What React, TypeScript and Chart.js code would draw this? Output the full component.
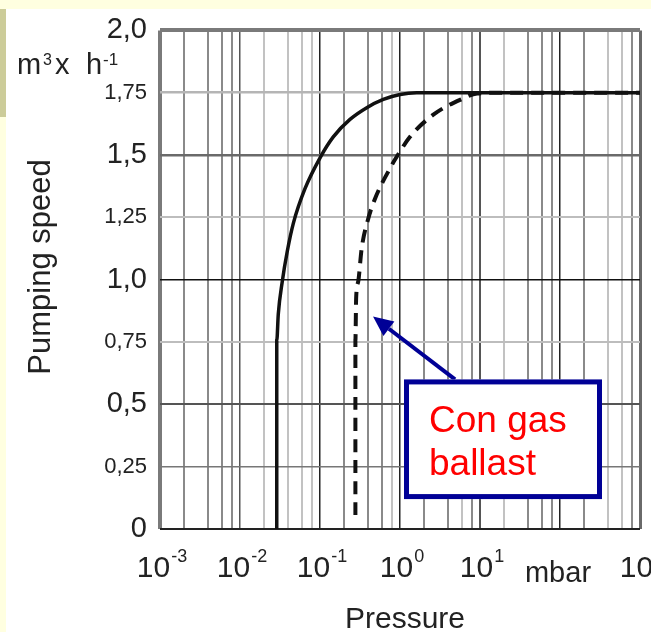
import { useEffect, useRef } from 'react';
import { Chart, registerables } from 'chart.js';

Chart.register(...registerables);

// ---- data ----
const solidPressure = [0.0288, 0.0288, 0.0301, 0.0338, 0.039, 0.0464, 0.0649, 0.1017, 0.1466, 0.237, 0.384, 0.618, 1.0, 1.62, 4.0, 1000];
const solidSpeed = [0, 0.754, 0.862, 0.994, 1.114, 1.226, 1.365, 1.493, 1.573, 1.643, 1.69, 1.723, 1.743, 1.75, 1.75, 1.75];

const ballastPressure = [0.277, 0.277, 0.283, 0.301, 0.332, 0.402, 0.487, 0.794, 0.91, 1.334, 2.585, 5.96, 9.2, 17.8, 1000];
const ballastSpeed = [0.056, 0.754, 0.926, 0.994, 1.126, 1.246, 1.325, 1.461, 1.493, 1.573, 1.661, 1.725, 1.747, 1.75, 1.75];

const yTickValues = [0, 0.25, 0.5, 0.75, 1.0, 1.25, 1.5, 1.75, 2.0];
const yTickLabels = ['0', '0,25', '0,5', '0,75', '1,0', '1,25', '1,5', '1,75', '2,0'];

const xDecadeExponents = [-3, -2, -1, 0, 1, 2, 3];
const xDecadeBase = ['10', '10', '10', '10', '10', 'mbar', '10'];
const xDecadeSup = ['-3', '-2', '-1', '0', '1', '', '3'];
const xMinorFactors = [2, 4, 6, 8];

const xTitle = 'Pressure';
const yTitle = 'Pumping speed';
const yUnitParts = ['m', '3', 'x', 'h', '-1'];
const noteLines = ['Con gas', 'ballast'];

// annotation anchors in data space
const arrowFrom = { p: 4.87, s: 0.6 };
const arrowTo = { p: 0.46, s: 0.852 };
const noteBox = { pLeft: 1.122, pRight: 335, sTop: 0.6, sBottom: 0.12 };

const FONT = '"Liberation Sans", Arial, Helvetica, sans-serif';

const xGridValues: number[] = [];
xDecadeExponents.forEach((e) => {
  xGridValues.push(Math.pow(10, e));
  if (e < 3) xMinorFactors.forEach((f) => xGridValues.push(f * Math.pow(10, e)));
});

const lightMinor = new Set(['-2:2', '-2:4', '-2:6', '-2:8', '-1:8', '0:6', '1:2', '2:4', '2:6']);

function xLine(v: number): { c: string; w: number } {
  const lg = Math.log10(v);
  const e = Math.floor(lg + 1e-9);
  const f = Math.round(v / Math.pow(10, e));
  if (Math.abs(lg + 3) < 1e-6) return { c: '#7a7a7a', w: 4 };
  if (Math.abs(lg - 3) < 1e-6) return { c: '#6a6a6a', w: 3 };
  if (f === 1) return { c: e === 1 || e === -2 ? '#555555' : '#222222', w: e === 1 ? 2 : 1.5 };
  return lightMinor.has(e + ':' + f) ? { c: '#c2c2c2', w: 2 } : { c: '#8a8a8a', w: 2 };
}

function yLine(v: number): { c: string; w: number } {
  const k = Math.round(v * 4);
  switch (k) {
    case 8: return { c: '#7a7a7a', w: 4 };
    case 7: return { c: '#b5b5b5', w: 2.5 };
    case 6: return { c: '#6a6a6a', w: 2.5 };
    case 5: return { c: '#bdbdbd', w: 2 };
    case 4: return { c: '#111111', w: 1.5 };
    case 3: return { c: '#bdbdbd', w: 2 };
    case 2: return { c: '#555555', w: 2 };
    case 1: return { c: '#777777', w: 1.5 };
    default: return { c: '#222222', w: 2 };
  }
}

const textPlugin = {
  id: 'textPlugin',
  afterDraw(chart: any) {
    const ctx: CanvasRenderingContext2D = chart.ctx;
    const xs = chart.scales.x;
    const ys = chart.scales.y;
    ctx.save();
    ctx.fillStyle = '#222';
    ctx.textBaseline = 'alphabetic';

    // x tick labels
    xDecadeExponents.forEach((e, i) => {
      const px = xs.getPixelForValue(Math.pow(10, e));
      const base = xDecadeBase[i];
      const sup = xDecadeSup[i];
      if (!sup) {
        ctx.font = `29px ${FONT}`;
        ctx.textAlign = 'center';
        ctx.fillText(base, px - 2, 582);
        return;
      }
      ctx.font = `30px ${FONT}`;
      const wb = ctx.measureText(base).width;
      ctx.font = `18px ${FONT}`;
      const ws = ctx.measureText(sup).width;
      const total = wb + 1 + ws;
      const x0 = px - total / 2 + 2;
      ctx.textAlign = 'left';
      ctx.font = `30px ${FONT}`;
      ctx.fillText(base, x0, 577);
      ctx.font = `18px ${FONT}`;
      ctx.fillText(sup, x0 + wb + 1, 562);
    });

    // x title
    ctx.font = `30px ${FONT}`;
    ctx.textAlign = 'center';
    ctx.fillText(xTitle, 405, 628);

    // y title
    ctx.save();
    ctx.translate(50, 267);
    ctx.rotate(-Math.PI / 2);
    ctx.font = `31px ${FONT}`;
    ctx.textAlign = 'center';
    ctx.fillText(yTitle, 0, 0);
    ctx.restore();

    // unit label m3 x h-1
    ctx.textAlign = 'left';
    const unitPos = [[17, 74, 29], [43, 65, 16], [55, 74, 29], [86, 74, 29], [103, 65, 17]];
    yUnitParts.forEach((t, i) => {
      const [x, y, s] = unitPos[i];
      ctx.font = `${s}px ${FONT}`;
      ctx.fillText(t, x, y);
    });

    // arrow
    const ax0 = xs.getPixelForValue(arrowFrom.p);
    const ay0 = ys.getPixelForValue(arrowFrom.s);
    const ax1 = xs.getPixelForValue(arrowTo.p);
    const ay1 = ys.getPixelForValue(arrowTo.s);
    const ang = Math.atan2(ay1 - ay0, ax1 - ax0);
    const hl = 20;
    const hw = 9;
    const bx = ax1 - hl * Math.cos(ang);
    const by = ay1 - hl * Math.sin(ang);
    ctx.strokeStyle = '#000096';
    ctx.fillStyle = '#000096';
    ctx.lineWidth = 4;
    ctx.beginPath();
    ctx.moveTo(ax0, ay0);
    ctx.lineTo(bx, by);
    ctx.stroke();
    ctx.beginPath();
    ctx.moveTo(ax1, ay1);
    ctx.lineTo(bx + hw * Math.sin(ang), by - hw * Math.cos(ang));
    ctx.lineTo(bx - hw * Math.sin(ang), by + hw * Math.cos(ang));
    ctx.closePath();
    ctx.fill();

    // note box
    const l = xs.getPixelForValue(noteBox.pLeft);
    const r = xs.getPixelForValue(noteBox.pRight);
    const t = ys.getPixelForValue(noteBox.sTop);
    const b = ys.getPixelForValue(noteBox.sBottom);
    ctx.fillStyle = '#ffffff';
    ctx.fillRect(l, t, r - l, b - t);
    ctx.lineWidth = 5;
    ctx.strokeStyle = '#000096';
    ctx.strokeRect(l + 2.5, t + 2.5, r - l - 5, b - t - 5);
    ctx.fillStyle = '#ff0000';
    ctx.font = `37px ${FONT}`;
    ctx.textAlign = 'left';
    noteLines.forEach((line, i) => {
      ctx.fillText(line, l + 25, t + 53 + i * 43);
    });

    ctx.restore();
  },
};

export default function App() {
  const canvasRef = useRef<HTMLCanvasElement | null>(null);

  useEffect(() => {
    const canvas = canvasRef.current;
    if (!canvas) return;
    const chart = new Chart(canvas, {
      type: 'scatter',
      data: {
        datasets: [
          {
            label: 'Senza gas ballast',
            data: solidPressure.map((p, i) => ({ x: p, y: solidSpeed[i] })),
            showLine: true,
            borderColor: '#111111',
            borderWidth: 3.5,
            pointRadius: 0,
            cubicInterpolationMode: 'monotone',
          },
          {
            label: 'Con gas ballast',
            data: ballastPressure.map((p, i) => ({ x: p, y: ballastSpeed[i] })),
            showLine: true,
            borderColor: '#111111',
            borderWidth: 4,
            borderDash: [13, 8],
            pointRadius: 0,
            cubicInterpolationMode: 'monotone',
          },
        ],
      },
      options: {
        animation: false,
        responsive: false,
        events: [],
        layout: { padding: { left: 0, right: 40, top: 28, bottom: 103 } },
        plugins: { legend: { display: false }, tooltip: { enabled: false } },
        scales: {
          x: {
            type: 'logarithmic',
            min: 0.001,
            max: 1000,
            border: { display: false },
            ticks: { display: false },
            afterBuildTicks: (s: any) => {
              s.ticks = xGridValues.map((v) => ({ value: v }));
            },
            afterFit: (s: any) => {
              s.height = 0;
            },
            grid: {
              drawTicks: false,
              color: (c: any) => xLine(c.tick.value).c,
              lineWidth: (c: any) => xLine(c.tick.value).w,
            },
          },
          y: {
            type: 'linear',
            min: 0,
            max: 2,
            border: { display: false },
            afterFit: (s: any) => {
              s.width = 160;
            },
            ticks: {
              stepSize: 0.25,
              padding: 13,
              color: '#222222',
              font: (c: any) => {
                const v = c.tick ? c.tick.value : 0;
                const major = Math.abs(v * 2 - Math.round(v * 2)) < 1e-6;
                return { family: FONT, size: major ? 29 : 22 };
              },
              callback: (value: any) => {
                let idx = 0;
                let best = Infinity;
                yTickValues.forEach((tv, i) => {
                  const d = Math.abs(tv - Number(value));
                  if (d < best) { best = d; idx = i; }
                });
                return yTickLabels[idx];
              },
            },
            grid: {
              drawTicks: false,
              color: (c: any) => yLine(c.tick.value).c,
              lineWidth: (c: any) => yLine(c.tick.value).w,
            },
          },
        },
      } as any,
      plugins: [textPlugin],
    });
    return () => chart.destroy();
  }, []);

  return (
    <div
      style={{
        position: 'fixed',
        left: 0,
        top: 0,
        width: 651,
        height: 632,
        overflow: 'hidden',
        background: '#ffffff',
      }}
    >
      <div style={{ position: 'absolute', left: 0, top: 0, width: 651, height: 9, background: '#ffffe0' }} />
      <div style={{ position: 'absolute', left: 0, top: 9, width: 6, height: 623, background: '#ffffe0' }} />
      <div style={{ position: 'absolute', left: 0, top: 9, width: 6, height: 108, background: '#cccc99' }} />
      <canvas
        ref={canvasRef}
        width={680}
        height={632}
        style={{ position: 'absolute', left: 0, top: 0, width: 680, height: 632 }}
      />
    </div>
  );
}
